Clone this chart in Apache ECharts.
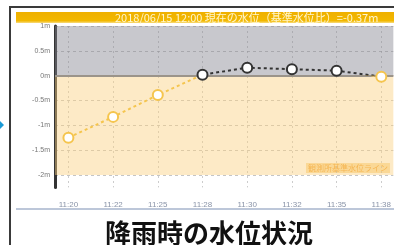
<!DOCTYPE html>
<html>
<head>
<meta charset="utf-8">
<script src="https://cdn.jsdelivr.net/npm/echarts@6/dist/echarts.min.js"></script>
<style>
  html, body { margin: 0; padding: 0; background: #fff; }
  #chart { width: 394px; height: 245px; }
</style>
</head>
<body>
<div id="chart"></div>
<script>
// データ
const timeLabels = ['11:20', '11:22', '11:25', '11:28', '11:30', '11:32', '11:35', '11:38'];
const waterLevel = [-1.25, -0.83, -0.39, 0.02, 0.16, 0.13, 0.10, -0.02];
const levelTicks = [1, 0.5, 0, -0.5, -1, -1.5, -2];
const levelNames = ['1m', '0.5m', '0m', '-0.5m', '-1m', '-1.5m', '-2m'];
const headerText = '2018/06/15 12:00 現在の水位（基準水位比）=-0.37m';
const baseLabel = '観測所基準水位ライン';
const captionText = '降雨時の水位状況';

const LOW = '#f5c54e';   // 0m未満
const HIGH = '#333';     // 0m以上

const chart = echarts.init(document.getElementById('chart'));

chart.setOption({
  animation: false,
  title: {
    text: captionText,
    left: 100,
    top: 215,
    textStyle: { fontSize: 26, fontWeight: 'bold', color: '#111', fontFamily: 'Noto Sans CJK JP' }
  },
  grid: { left: 55, top: 26, right: 0, bottom: 57.6 },
  xAxis: {
    type: 'value',
    min: -0.3,
    max: 7.27,
    axisLine: { show: false },
    axisTick: { show: false, customValues: timeLabels.map((_, i) => i) },
    axisLabel: {
      customValues: timeLabels.map((_, i) => i),
      formatter: v => timeLabels[v],
      color: '#8a94a8',
      fontSize: 8,
      margin: 13
    },
    splitLine: { show: true, lineStyle: { type: [2, 3], color: 'rgba(170,170,170,0.6)' } }
  },
  yAxis: {
    type: 'value',
    min: -2.25,
    max: 1,
    axisLine: { show: true, onZero: false, lineStyle: { color: '#333', width: 3 } },
    axisTick: { show: false, customValues: levelTicks },
    axisLabel: {
      customValues: levelTicks,
      formatter: v => levelNames[levelTicks.indexOf(v)],
      color: '#777',
      fontSize: 7,
      margin: 5
    },
    splitLine: { show: true, lineStyle: { type: [3, 3], color: 'rgba(150,150,150,0.55)' } }
  },
  series: [{
    type: 'line',
    data: waterLevel.map((v, i) => [i, v]),
    symbol: 'emptyCircle',
    symbolSize: 10,
    itemStyle: {
      borderWidth: 3,
      color: p => (p.value[1] < 0 ? LOW : HIGH)
    },
    lineStyle: { type: [3, 3], width: 2, color: LOW },
    z: 5,
    markArea: {
      silent: true,
      data: [
        [{ yAxis: 0, itemStyle: { color: 'rgba(133,133,144,0.45)' } }, { yAxis: 1 }],
        [{ yAxis: -2, itemStyle: { color: 'rgba(250,208,128,0.45)' } }, { yAxis: 0 }]
      ]
    },
    markLine: {
      silent: true,
      symbol: 'none',
      label: { show: false },
      lineStyle: { type: 'solid', color: '#9b948a', width: 2 },
      data: [{ yAxis: 0 }]
    }
  }],
  graphic: [
    // 外枠
    { type: 'line', shape: { x1: 10, y1: 7, x2: 394, y2: 7 }, style: { stroke: '#3a3a3a', lineWidth: 2 } },
    { type: 'line', shape: { x1: 10, y1: 6, x2: 10, y2: 245 }, style: { stroke: '#3a3a3a', lineWidth: 2 } },
    // 見出しバー
    {
      type: 'rect',
      shape: { x: 16, y: 12, width: 378, height: 11 },
      style: {
        fill: new echarts.graphic.LinearGradient(0, 0, 0, 1, [
          { offset: 0, color: '#efb000' },
          { offset: 0.8, color: '#f2b800' },
          { offset: 1, color: '#f8dc80' }
        ])
      }
    },
    {
      type: 'text', x: 115, y: 17.5,
      style: { text: headerText, fill: '#fff6cc', font: '11px "Noto Sans CJK JP"', verticalAlign: 'middle' }
    },
    // 基準ラベル
    {
      type: 'text', x: 306, y: 168,
      style: {
        text: baseLabel, fill: '#f0a030', font: '8px "Noto Sans CJK JP"', verticalAlign: 'middle',
        backgroundColor: 'rgba(248,196,96,0.55)', padding: [1, 2]
      }
    },
    // 下の区切り線
    { type: 'line', shape: { x1: 16, y1: 209, x2: 394, y2: 209 }, style: { stroke: '#7b8fb3', lineWidth: 1 } },
    // 左端の矢印
    { type: 'polygon', shape: { points: [[0, 121], [4, 125], [0, 129]] }, style: { fill: '#1a9ad6' } }
  ]
});

// 0m の位置で線の色を切り替える（軸のスケールから求める）
const zeroY = chart.convertToPixel({ yAxisIndex: 0 }, 0);
chart.setOption({
  series: [{
    lineStyle: {
      color: new echarts.graphic.LinearGradient(0, zeroY - 0.5, 0, zeroY + 0.5, [
        { offset: 0, color: HIGH },
        { offset: 1, color: LOW }
      ], true)
    }
  }]
});
</script>
</body>
</html>
